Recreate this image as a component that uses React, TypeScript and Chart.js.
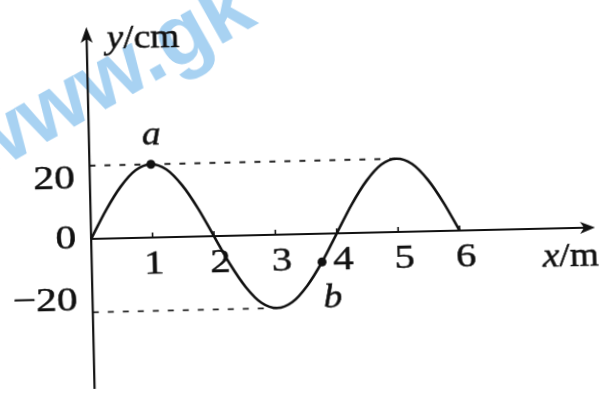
import React, { useEffect, useRef } from "react";
import { Chart, registerables } from "chart.js";

Chart.register(...registerables);

// ---- data ----
const waveX = [0, 0.25, 0.5, 0.75, 1, 1.25, 1.5, 1.75, 2, 2.25, 2.5, 2.75, 3, 3.25, 3.5, 3.75, 4, 4.25, 4.5, 4.75, 5, 5.25, 5.5, 5.75, 6];
const waveY = [0, 7.7, 14.1, 18.5, 20, 18.5, 14.1, 7.7, 0, -7.7, -14.1, -18.5, -20, -18.5, -14.1, -7.7, 0, 7.7, 14.1, 18.5, 20, 18.5, 14.1, 7.7, 0];
const xTickValues = [1, 2, 3, 4, 5, 6];
const xTickLabels = ["1", "2", "3", "4", "5", "6"];
const yTickValues = [20, 0, -20];
const yTickLabels = ["20", "0", "\u221220"];
const pointLabels = ["a", "b"];
const pointX = [1, 3.75];
const pointY = [20, -7.7];
const dashTopX = [0, 5];
const dashBottomX = [0, 3];
const xAxisTitle = ["x", "/m"];
const yAxisTitle = ["y", "/cm"];
const watermarkText = "www.gk";

const SERIF = '"Liberation Serif", "DejaVu Serif", serif';

function txt(ctx: any, s: string, x: number, y: number, sx: number) {
  ctx.save();
  ctx.translate(x, y);
  ctx.scale(sx, 1);
  ctx.fillText(s, 0, 0);
  ctx.lineWidth = 0.5;
  ctx.strokeText(s, 0, 0);
  ctx.restore();
}

const overlay = {
  id: "overlay",
  beforeDatasetsDraw(chart: any) {
    const ctx = chart.ctx;
    ctx.save();
    ctx.translate(-20, 178);
    ctx.rotate((-28 * Math.PI) / 180);
    ctx.font = 'bold 86px "Liberation Sans", Arial, sans-serif';
    ctx.fillStyle = "#a8d2f2";
    ctx.textBaseline = "alphabetic";
    ctx.fillText(watermarkText, 0, 0);
    ctx.restore();
  },
  afterDatasetsDraw(chart: any) {
    const ctx = chart.ctx;
    const xs = chart.scales.x;
    const ys = chart.scales.y;
    const ox = xs.getPixelForValue(0);
    const oy = ys.getPixelForValue(0);
    ctx.save();
    ctx.strokeStyle = "#111";
    ctx.fillStyle = "#111";
    ctx.lineWidth = 2.2;
    // y axis
    const yTop = oy - 212;
    ctx.beginPath();
    ctx.moveTo(ox, oy + 150);
    ctx.lineTo(ox, yTop + 10);
    ctx.stroke();
    ctx.beginPath();
    ctx.moveTo(ox, yTop);
    ctx.lineTo(ox - 6, yTop + 16);
    ctx.lineTo(ox, yTop + 12);
    ctx.lineTo(ox + 6, yTop + 16);
    ctx.closePath();
    ctx.fill();
    // x axis
    const xEnd = ox + 504;
    ctx.beginPath();
    ctx.moveTo(ox, oy);
    ctx.lineTo(xEnd - 10, oy);
    ctx.stroke();
    ctx.beginPath();
    ctx.moveTo(xEnd, oy);
    ctx.lineTo(xEnd - 15, oy - 6);
    ctx.lineTo(xEnd - 11, oy);
    ctx.lineTo(xEnd - 15, oy + 6);
    ctx.closePath();
    ctx.fill();
    // ticks
    ctx.lineWidth = 1.6;
    xTickValues.forEach((v) => {
      const px = xs.getPixelForValue(v);
      ctx.beginPath();
      ctx.moveTo(px, oy);
      ctx.lineTo(px, oy - 5);
      ctx.stroke();
    });
    // tick labels
    ctx.font = `34px ${SERIF}`;
    ctx.textBaseline = "middle";
    ctx.textAlign = "center";
    xTickValues.forEach((v, i) => {
      const px = xs.getPixelForValue(v) + (i === 0 ? 1 : 6);
      txt(ctx, xTickLabels[i], px, oy + 27, 1.2);
    });
    ctx.textAlign = "right";
    yTickValues.forEach((v, i) => {
      let py = ys.getPixelForValue(v);
      if (v > 0) py += 13;
      if (v < 0) py -= 11;
      txt(ctx, yTickLabels[i], ox - 15, py, 1.22);
    });
    // axis titles
    const tsx = 1.1;
    ctx.textAlign = "left";
    ctx.textBaseline = "alphabetic";
    ctx.font = `italic 34px ${SERIF}`;
    let tx = ox + 20;
    txt(ctx, yAxisTitle[0], tx, oy - 190, tsx);
    tx += ctx.measureText(yAxisTitle[0]).width * tsx;
    ctx.font = `34px ${SERIF}`;
    txt(ctx, yAxisTitle[1], tx, oy - 190, tsx);

    ctx.font = `italic 34px ${SERIF}`;
    tx = ox + 451;
    txt(ctx, xAxisTitle[0], tx, oy + 38, tsx);
    tx += ctx.measureText(xAxisTitle[0]).width * tsx;
    ctx.font = `34px ${SERIF}`;
    txt(ctx, xAxisTitle[1], tx, oy + 38, tsx);

    // point labels
    ctx.font = `italic 34px ${SERIF}`;
    ctx.textAlign = "center";
    ctx.textBaseline = "middle";
    const offs = [
      [1, -29],
      [10, 37],
    ];
    pointLabels.forEach((t, i) => {
      const px = xs.getPixelForValue(pointX[i]) + offs[i][0];
      const py = ys.getPixelForValue(pointY[i]) + offs[i][1];
      txt(ctx, t, px, py, 1.1);
    });
    ctx.restore();
  },
};

export default function App() {
  const ref = useRef<HTMLCanvasElement | null>(null);
  useEffect(() => {
    if (!ref.current) return;
    const pxPerX = 62.35;
    const pxPerY = 3.75;
    const ox = 88;
    const oy = 240;
    const W = 603;
    const H = 394;
    const chart = new Chart(ref.current, {
      type: "line",
      data: {
        datasets: [
          {
            data: waveX.map((x, i) => ({ x, y: waveY[i] })),
            borderColor: "#111",
            borderWidth: 2.6,
            pointRadius: 0,
            cubicInterpolationMode: "monotone",
            fill: false,
          },
          {
            data: dashTopX.map((x) => ({ x, y: 20 })),
            borderColor: "#222",
            borderWidth: 1.8,
            borderDash: [6, 9],
            pointRadius: 0,
            fill: false,
          },
          {
            data: dashBottomX.map((x) => ({ x, y: -20 })),
            borderColor: "#222",
            borderWidth: 1.8,
            borderDash: [6, 9],
            pointRadius: 0,
            fill: false,
          },
          {
            data: pointX.map((x, i) => ({ x, y: pointY[i] })),
            showLine: false,
            pointRadius: 4.5,
            pointBackgroundColor: "#111",
            pointBorderWidth: 0,
          },
        ] as any,
      },
      options: {
        animation: false,
        responsive: false,
        events: [],
        layout: { padding: 0 },
        plugins: { legend: { display: false }, tooltip: { enabled: false } },
        scales: {
          x: { type: "linear", display: false, min: -ox / pxPerX, max: (W - ox) / pxPerX },
          y: { type: "linear", display: false, min: -(H - oy) / pxPerY, max: oy / pxPerY },
        },
      },
      plugins: [overlay],
    });
    return () => chart.destroy();
  }, []);
  return (
    <div style={{ position: "fixed", left: 0, top: 0, width: 603, height: 394, background: "#fff", overflow: "hidden" }}>
      <canvas
        ref={ref}
        width={603}
        height={394}
        style={{ width: 603, height: 394, display: "block", transform: "rotate(-1.3deg)", transformOrigin: "88px 240px" }}
      />
    </div>
  );
}
